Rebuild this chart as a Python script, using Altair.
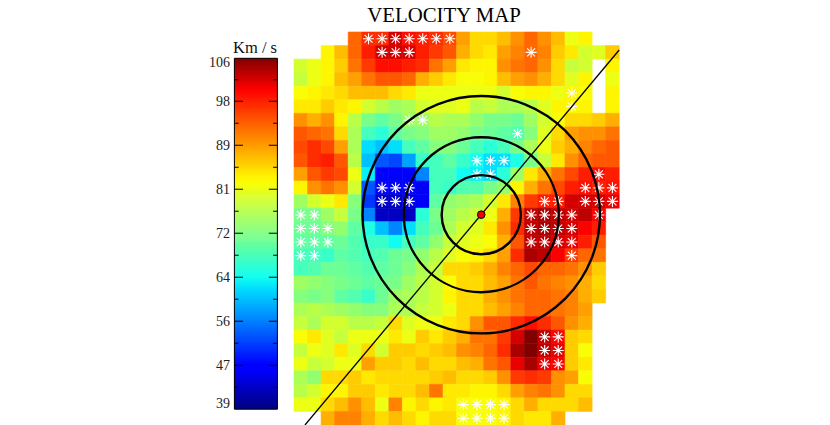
import altair as alt
import numpy as np
import pandas as pd

TITLE = "VELOCITY MAP"
UNIT = "Km / s"
FONT = "Liberation Serif"

# first column of each row, then the velocity read for each cell (None = no data)
ROW_START = [4, 2] + [0] * 26 + [2]
VELOCITY = [
    [93, 97, 97, 102, 99, 98, 97, 95, 89, 85, 85, 87, 90, 93, 90, 87, 81, 83],
    [83, 87, 93, 98, 102, 102, 102, 98, 96, 94, 88, 85, 84, 89, 91, 93, 91, 86, 84, 79, 80, 86],
    [79, 81, 83, 86, 92, 96, 99, 99, 98, 97, 92, 89, 84, 83, 83, 90, 92, 93, 90, 85, 78, 79, None, 83],
    [78, 81, 83, 87, 89, 92, 94, 94, 93, 88, 86, 84, 82, 82, 83, 87, 89, 90, 88, 85, 80, 83, None, 81],
    [82, 83, 84, 85, 87, 87, 87, 85, 84, 81, 81, 81, 81, 81, 81, 79, 82, 83, 83, 81, 83, 82, None, 83],
    [84, 84, 86, 84, 83, 79, 77, 75, 76, 79, 80, 80, 81, 77, 78, 76, 76, 77, 80, 83, 83, 83, None, 83],
    [90, 88, 90, 83, 77, 72, 70, 72, 75, 75, 77, 76, 76, 74, 72, 72, 71, 75, 79, 82, 85, 85, 86, 88],
    [94, 93, 92, 85, 76, 68, 66, 70, 72, 73, 75, 75, 74, 72, 71, 70, 69, 73, 80, 85, 89, 90, 90, 92],
    [95, 97, 95, 89, 76, 62, 60, 62, 68, 70, 73, 73, 71, 68, 66, 68, 72, 76, 81, 86, 88, 91, 93, 94],
    [94, 97, 98, 94, 77, 60, 53, 52, 58, 67, 68, 70, 67, 64, 62, 62, 65, 72, 78, 84, 90, 93, 94, 94],
    [89, 94, 96, 95, 81, 63, 47, 47, 47, 56, 68, 68, 64, 63, 62, 66, 75, 84, 88, 92, 95, 98, 99, 98],
    [83, 90, 92, 90, 79, 53, 47, 46, 47, 46, 68, 67, 69, 69, 72, 74, 83, 88, 92, 95, 98, 99, 98, 99],
    [75, 79, 81, 84, 73, 51, 43, 43, 45, 46, 70, 74, 75, 76, 79, 84, 91, 96, 98, 98, 102, 102, 102, 101],
    [72, 72, 75, 78, 72, 56, 43, 43, 43, 66, 72, 75, 77, 78, 81, 88, 96, 103, 104, 103, 102, 103, 100],
    [71, 71, 73, 74, 70, 65, 60, 56, 62, 68, 71, 76, 79, 80, 84, 90, 97, 103, 104, 103, 102, 100, 98],
    [70, 70, 70, 71, 69, 67, 67, 64, 68, 70, 74, 78, 80, 81, 82, 88, 94, 103, 103, 102, 101, 98, 94],
    [68, 68, 67, 70, 69, 68, 69, 71, 72, 74, 77, 80, 82, 83, 85, 89, 97, 104, 103, 100, 96, 93, 92],
    [68, 69, 71, 71, 70, 69, 70, 71, 73, 76, 78, 85, 85, 86, 88, 91, 93, 95, 93, 93, 92, 90, 86],
    [75, 74, 73, 72, 71, 70, 71, 72, 75, 77, 79, 82, 85, 85, 87, 89, 92, 94, 92, 91, 90, 88, 85],
    [73, 72, 73, 70, 69, 67, 71, 75, 76, 77, 79, 83, 85, 85, 88, 90, 92, 93, 93, 92, 91, 88, 86],
    [76, 77, 76, 75, 74, 73, 73, 76, 76, 78, 79, 81, 85, 85, 87, 89, 91, 93, 93, 92, 91, 89],
    [78, 76, 79, 79, 77, 77, 78, 85, 80, 81, 81, 84, 85, 90, 94, 94, 97, 99, 97, 94, 90, 88],
    [82, 84, 80, 78, 81, 81, 81, 84, 81, 86, 84, 86, 88, 92, 92, 96, 102, 106, 103, 100, 86, 85],
    [78, 81, 80, 84, 80, 85, 79, 86, 86, 85, 86, 87, 90, 91, 93, 97, 104, 106, 103, 101, 86, 82],
    [81, 78, 79, 81, 81, 89, 86, 86, 85, 87, 85, 85, 87, 88, 92, 94, 101, 104, 101, 100, 86, 84],
    [76, 74, 85, 85, 86, 84, 85, 85, 85, 85, 86, 87, 85, 85, 86, 90, 96, 97, 96, 90, 89, 82],
    [77, 79, 83, 83, 86, 86, 84, 85, 85, 87, 92, 84, 84, 83, 83, 85, 89, 91, 92, 90, 85, 85],
    [81, 81, 85, 87, 90, 87, 81, 91, 83, 85, 83, 84, 82, 82, 82, 83, 85, 88, 85, 85, 85, 87],
    [88, 91, 91, 88, 85, 87, 85, 83, 85, 85, 82, 82, 82, 83, 85, 84, 84, 88],
]

# flagged cells: row -> columns
FLAGGED = {
    0: [5, 6, 7, 8, 9, 10, 11], 1: [6, 7, 8, 17], 4: [20], 5: [20], 6: [8, 9], 7: [16],
    9: [13, 14, 15], 10: [13, 14, 22], 11: [6, 7, 8, 21, 22, 23],
    12: [6, 7, 8, 18, 19, 21, 22, 23], 13: [0, 1, 17, 18, 19, 20, 22],
    14: [0, 1, 2, 17, 18, 19, 20], 15: [0, 1, 2, 17, 18, 19, 20], 16: [0, 1, 20],
    22: [18, 19], 23: [18, 19], 24: [18, 19], 27: [12, 13, 14, 15], 28: [12, 13, 14, 15],
}

AXIS_LINE_COL = [0.81, 24.0]
AXIS_LINE_ROW = [29.0, 1.33]
CENTER_COL = [13.82]
CENTER_ROW = [13.48]
RING_RADII_PX = [39.6, 77.5, 118.7]

CBAR_MIN, CBAR_MAX = 39.0, 106.0
MAJOR_TICKS = [39.0, 47.4, 55.8, 64.2, 72.6, 81.0, 89.4, 97.8, 106.0]
MAJOR_LABELS = ["39", "47", "56", "64", "72", "81", "89", "98", "106"]
MINOR_TICKS = [43.2, 51.6, 60.0, 68.4, 76.8, 85.2, 93.6, 101.9]

JET_STOPS = [0.0, 0.11, 0.125, 0.34, 0.375, 0.64, 0.66, 0.89, 0.91, 1.0]
JET_COLORS = ["#000080", "#0000ff", "#0000ff", "#00dcff", "#13fff0", "#f8ff08",
              "#fff400", "#ff1400", "#ff0000", "#800000"]

cells = []
for r, (start, vals) in enumerate(zip(ROW_START, VELOCITY)):
    for i, v in enumerate(vals):
        if v is not None:
            c = start + i
            cells.append({"c": c, "c2": c + 1, "r": r, "r2": r + 1, "v": v})
cells = pd.DataFrame(cells)
flags = pd.DataFrame([{"c": c + 0.5, "r": r + 0.5} for r, cs in FLAGGED.items() for c in cs])

map_x = alt.Scale(domain=[0, 24], range=[286, 611.2])
map_y = alt.Scale(domain=[0, 29], range=[24, 417])
bar_x = alt.Scale(domain=[0, 1], range=[226.4, 269.4])
bar_y = alt.Scale(domain=[CBAR_MIN, CBAR_MAX], range=[401.2, 50.3])
color = alt.Scale(domain=[CBAR_MIN + s * (CBAR_MAX - CBAR_MIN) for s in JET_STOPS],
                  range=JET_COLORS, interpolate="rgb", clamp=True)

cmap = (
    alt.Chart(cells).mark_rect(strokeWidth=0.6)
    .encode(x=alt.X("c:Q", scale=map_x, axis=None), x2="c2:Q",
            y=alt.Y("r:Q", scale=map_y, axis=None), y2="r2:Q",
            color=alt.Color("v:Q", scale=color, legend=None),
            stroke=alt.Stroke("v:Q", scale=color, legend=None))
)

STAR = "M-1,0L1,0M0,-1L0,1M-0.72,-0.72L0.72,0.72M-0.72,0.72L0.72,-0.72"
stars = (
    alt.Chart(flags).mark_point(shape=STAR, filled=False, stroke="white", strokeWidth=1.1, size=121, opacity=1)
    .encode(x=alt.X("c:Q", scale=map_x, axis=None), y=alt.Y("r:Q", scale=map_y, axis=None))
)

diag = (
    alt.Chart(pd.DataFrame({"c": AXIS_LINE_COL, "r": AXIS_LINE_ROW}))
    .mark_line(color="black", strokeWidth=1.3)
    .encode(x=alt.X("c:Q", scale=map_x, axis=None), y=alt.Y("r:Q", scale=map_y, axis=None))
)

rings = (
    alt.Chart(pd.DataFrame({"c": CENTER_COL * 3, "r": CENTER_ROW * 3,
                            "s": [(2 * p) ** 2 for p in RING_RADII_PX]}))
    .mark_point(shape="circle", filled=False, stroke="black", strokeWidth=2.4, opacity=1)
    .encode(x=alt.X("c:Q", scale=map_x, axis=None), y=alt.Y("r:Q", scale=map_y, axis=None),
            size=alt.Size("s:Q", scale=None, legend=None))
)

dot = (
    alt.Chart(pd.DataFrame({"c": CENTER_COL, "r": CENTER_ROW}))
    .mark_point(shape="circle", filled=True, fill="#ee0000", stroke="black", strokeWidth=1, size=58, opacity=1)
    .encode(x=alt.X("c:Q", scale=map_x, axis=None), y=alt.Y("r:Q", scale=map_y, axis=None))
)

levels = np.linspace(CBAR_MIN, CBAR_MAX, 352, endpoint=False)
step = levels[1] - levels[0]
grad = pd.DataFrame({"v": levels, "v2": np.minimum(levels + step * 1.6, CBAR_MAX), "a": 0.0, "b": 1.0})
bar = (
    alt.Chart(grad).mark_rect(strokeWidth=0)
    .encode(x=alt.X("a:Q", scale=bar_x, axis=None), x2="b:Q",
            y=alt.Y("v:Q", scale=bar_y, axis=None), y2="v2:Q",
            color=alt.Color("v:Q", scale=color, legend=None))
)
frame = (
    alt.Chart(pd.DataFrame({"a": [0.0], "b": [1.0], "v": [CBAR_MIN], "v2": [CBAR_MAX]}))
    .mark_rect(filled=False, stroke="black", strokeWidth=1)
    .encode(x=alt.X("a:Q", scale=bar_x, axis=None), x2="b:Q",
            y=alt.Y("v:Q", scale=bar_y, axis=None), y2="v2:Q")
)

tick_rows = []
for v in MAJOR_TICKS[1:-1]:
    tick_rows += [{"v": v, "a": 0.0, "b": 0.2}, {"v": v, "a": 0.8, "b": 1.0}]
for v in MINOR_TICKS:
    tick_rows += [{"v": v, "a": 0.0, "b": 0.1}, {"v": v, "a": 0.9, "b": 1.0}]
ticks = (
    alt.Chart(pd.DataFrame(tick_rows)).mark_rule(color="black", strokeWidth=1)
    .encode(x=alt.X("a:Q", scale=bar_x, axis=None), x2="b:Q",
            y=alt.Y("v:Q", scale=bar_y, axis=None))
)


def labels(vals, texts, baseline, dy=0):
    df = pd.DataFrame({"v": vals, "t": texts, "a": [0.0] * len(vals)})
    return (
        alt.Chart(df).mark_text(font=FONT, fontSize=14, align="right", baseline=baseline,
                                dx=-4.5, dy=dy, color="#222222")
        .encode(x=alt.X("a:Q", scale=bar_x, axis=None),
                y=alt.Y("v:Q", scale=bar_y, axis=None), text="t:N")
    )


lab_mid = labels(MAJOR_TICKS[1:-1], MAJOR_LABELS[1:-1], "middle", 1)
lab_low = labels(MAJOR_TICKS[:1], MAJOR_LABELS[:1], "bottom", 2)
lab_top = labels(MAJOR_TICKS[-1:], MAJOR_LABELS[-1:], "top", -2)

title = (
    alt.Chart(pd.DataFrame({"t": [TITLE]}))
    .mark_text(font=FONT, fontSize=20.8, align="center", baseline="alphabetic", color="black")
    .encode(x=alt.value(436), y=alt.value(14), text="t:N")
)
unit = (
    alt.Chart(pd.DataFrame({"t": [UNIT]}))
    .mark_text(font=FONT, fontSize=16.5, align="center", baseline="alphabetic", color="#111111")
    .encode(x=alt.value(247), y=alt.value(45), text="t:N")
)

chart = (
    alt.layer(cmap, stars, diag, rings, dot, bar, ticks, frame, lab_mid, lab_low, lab_top, title, unit)
    .resolve_scale(x="independent", y="independent")
    .properties(
        width=814, height=417, padding=0,
        autosize=alt.AutoSizeParams(type="none"),
    )
    .configure_view(stroke=None)
)

chart.save("out.html", embed_options={"renderer": "svg", "actions": False})
